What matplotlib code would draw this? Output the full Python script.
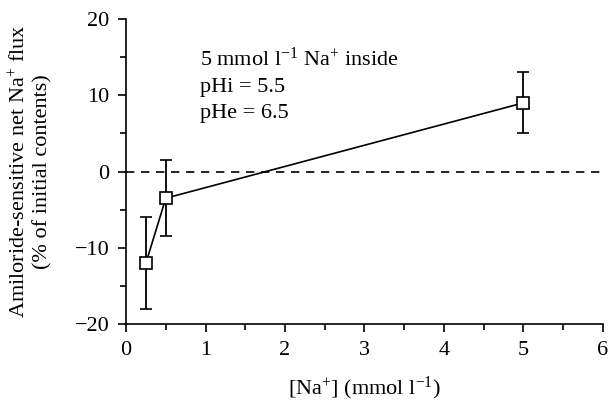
import matplotlib
matplotlib.use("Agg")
import matplotlib.pyplot as plt
from matplotlib.ticker import MultipleLocator

plt.rcParams['font.family'] = ['Liberation Serif', 'DejaVu Serif']
plt.rcParams['mathtext.fontset'] = 'custom'
plt.rcParams['mathtext.rm'] = 'Liberation Serif'
plt.rcParams['mathtext.it'] = 'Liberation Serif:italic'
plt.rcParams['font.size'] = 16

# data
na_conc = [0.25, 0.5, 5.0]
net_flux = [-12.0, -3.5, 9.0]
flux_err = [6.0, 5.0, 4.0]
note_lines = ['5 mmol l$^{-1}$ Na$^{+}$ inside', 'pHi = 5.5', 'pHe = 6.5']

fig = plt.figure(figsize=(6.12, 4.01), dpi=100)
ax = fig.add_axes([0.206, 0.192, 0.779, 0.7606])

ax.axhline(0, color='black', lw=1.2, ls=(0, (5, 4)), zorder=1)
ax.errorbar(na_conc, net_flux, yerr=flux_err, color='black', lw=1.2,
            elinewidth=1.3, capsize=4, capthick=1.3,
            marker='s', ms=9, mfc='white', mec='black', mew=1.2, zorder=3)

ax.set_xlim(0, 6)
ax.set_ylim(-20, 20)
ax.xaxis.set_major_locator(MultipleLocator(1))
ax.xaxis.set_minor_locator(MultipleLocator(0.5))
ax.yaxis.set_major_locator(MultipleLocator(10))
ax.yaxis.set_minor_locator(MultipleLocator(5))
ax.tick_params(which='both', direction='out', width=1.2, labelsize=16)
ax.tick_params(which='major', length=6, pad=6)
ax.tick_params(which='minor', length=4)
for s in ['top', 'right']:
    ax.spines[s].set_visible(False)
for s in ['left', 'bottom']:
    ax.spines[s].set_linewidth(1.2)

ax.set_xlabel('[Na$^{+}$] (mmol l$^{-1}$)', fontsize=16, labelpad=11)
ax.set_ylabel('Amiloride-sensitive net Na$^{+}$ flux\n(% of initial contents)',
              fontsize=16, labelpad=16, linespacing=1.15)

for yb, line in zip([13.8, 10.4, 7.0], note_lines):
    ax.text(0.93, yb, line, fontsize=16, va='baseline', ha='left')

fig.savefig('out.png', dpi=100)
